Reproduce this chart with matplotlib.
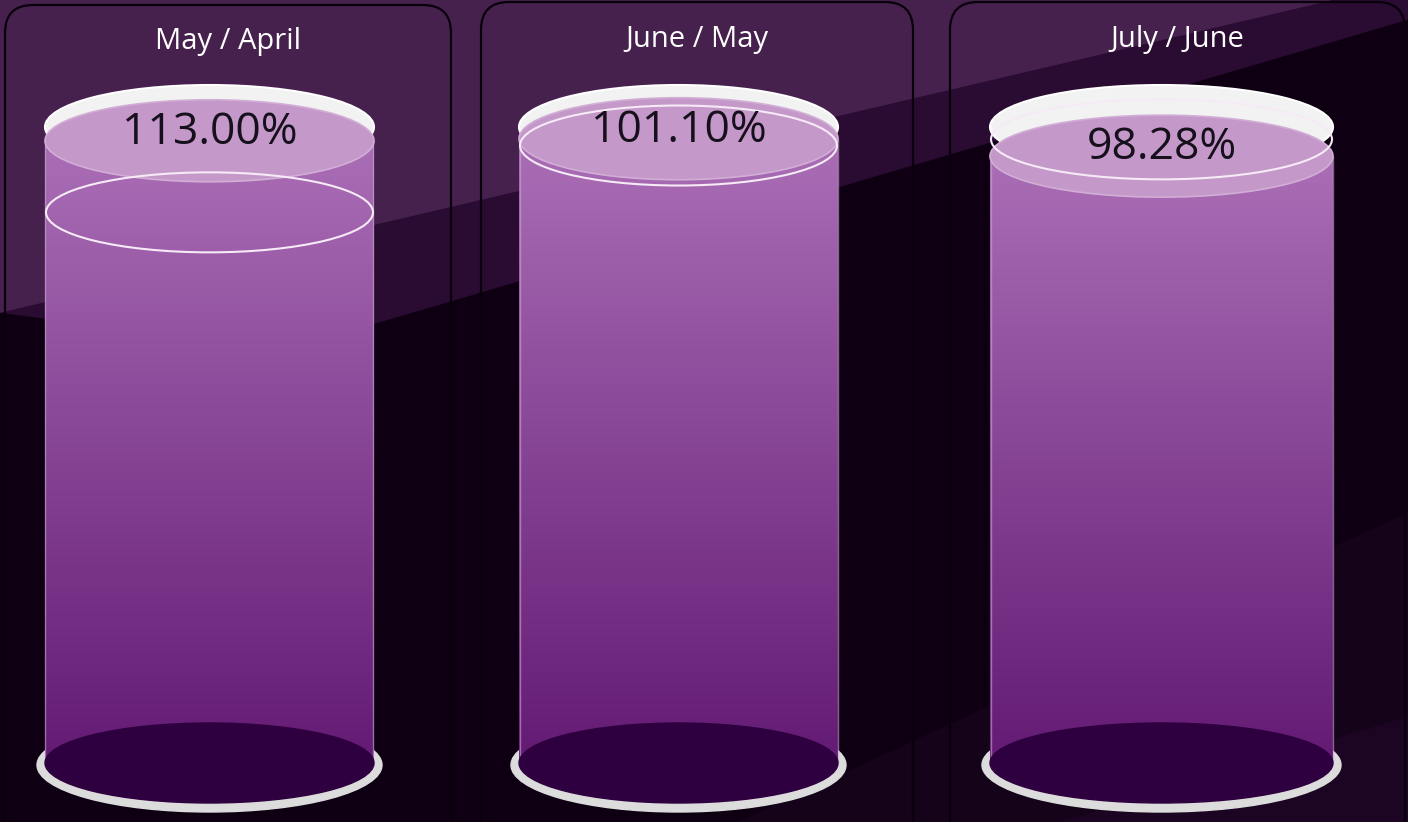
import numpy as np
import matplotlib.pyplot as plt
from matplotlib.patches import Ellipse, Rectangle, FancyBboxPatch, Polygon
from matplotlib.colors import LinearSegmentedColormap

# data
titles = ['May / April', 'June / May', 'July / June']
values = [113.00, 101.10, 98.28]
targets = [100.0, 100.0, 101.0]
scale_max = [115.5, 103.0, 103.0]

W, H = 1408, 822
plt.rcParams['font.family'] = ['Open Sans', 'DejaVu Sans']

fig = plt.figure(figsize=(W / 100, H / 100), dpi=100)
fig.patch.set_facecolor('#0e0012')

# background with diagonal bands
bg = fig.add_axes([0, 0, 1, 1])
bg.set_xlim(0, W)
bg.set_ylim(H, 0)
bg.axis('off')
bg.add_patch(Rectangle((0, 0), W, H, color='#0e0012', zorder=0))
bg.add_patch(Polygon([(0, 312), (1330, 0), (W, 0), (W, 19), (375, 323), (45, 318)],
                     color='#2a0b31', zorder=1.5))
bg.add_patch(Polygon([(0, 0), (1330, 0), (0, 312)], color='#46214e', zorder=2))
bg.add_patch(Polygon([(739, H), (W, 513), (W, H)], color='#140319', zorder=1))
bg.add_patch(Polygon([(1063, H), (W, 717), (W, H)], color='#1b0522', zorder=1.2))

# panel frames
panel_left = [5, 481, 950]
panel_right = [451, 913, 1405]
panel_top = [5, 2, 2]
for pl, pr, pt, t in zip(panel_left, panel_right, panel_top, titles):
    bg.add_patch(FancyBboxPatch((pl, pt), pr - pl, H + 60,
                                boxstyle='round,pad=0,rounding_size=28',
                                fill=False, ec='#08000a', lw=1.6, zorder=3))
    bg.text((pl + pr) / 2, pt + 37, t, color='white', fontsize=21,
            ha='center', va='center', zorder=4)

# cylinders
cyl_left = [45, 519, 990]
cyl_right = [374, 838, 1333]
y_bottom, y_top = 763, 127

liquid = LinearSegmentedColormap.from_list('liq', ['#631a74', '#aa6eb6'])
grad = np.linspace(0, 1, 256).reshape(-1, 1)

for i in range(3):
    cl, cr = cyl_left[i], cyl_right[i]
    cx, cw = (cl + cr) / 2, cr - cl
    ax = fig.add_axes([(cl - 40) / W, (H - y_bottom) / H,
                       (cw + 80) / W, (y_bottom - y_top) / H])
    ax.axis('off')
    ax.patch.set_alpha(0)
    vmax = scale_max[i]
    ppu = (y_bottom - y_top) / vmax  # pixels per percent
    v = values[i]

    ax.add_patch(Ellipse((cx, -2 / ppu), cw + 16, 94 / ppu, color='#dcdcdc',
                         clip_on=False, zorder=1))
    ax.imshow(grad, extent=[cl, cr, 0, v], origin='lower', cmap=liquid,
              aspect='auto', zorder=2, clip_on=False)
    ax.vlines([cl + 0.5, cr - 0.5], 0, v, color='#c8a8cc', lw=1, alpha=0.6, zorder=2.5)
    ax.add_patch(Ellipse((cx, 0), cw, 80 / ppu, color='#2e003f',
                         clip_on=False, zorder=3))
    ax.add_patch(Ellipse((cx, vmax), cw, 84 / ppu, fc='#f2f2f2', ec='#ffffff',
                         lw=1.5, clip_on=False, zorder=4))
    ax.add_patch(Ellipse((cx, v), cw, 82 / ppu, fc='#c498c9', ec='#d2aed6',
                         lw=1.2, clip_on=False, zorder=5))
    ax.add_patch(Ellipse((cx, targets[i]), cw - 2, 80 / ppu, fill=False,
                         ec='#f6eaf6', lw=1.5, clip_on=False, zorder=6))
    ax.annotate(f'{v:.2f}%', xy=(cx, v), xytext=(0, 8), textcoords='offset pixels',
                ha='center', va='center', fontsize=32, color='#16101c',
                zorder=7)
    ax.set_xlim(cl - 40, cr + 40)
    ax.set_ylim(0, vmax)

fig.savefig('out.png', dpi=100, facecolor=fig.get_facecolor())
